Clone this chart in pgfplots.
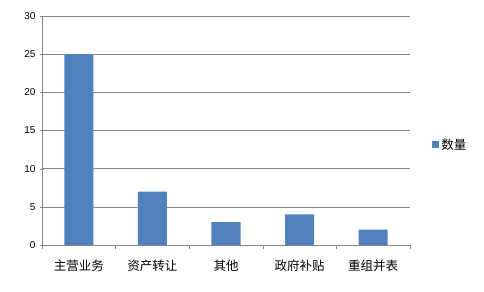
\documentclass[border=0pt]{standalone}
\usepackage{pgfplots}
\pgfplotsset{compat=1.18}
\usepackage{fontspec}
\setmainfont{Liberation Sans}
\newfontfamily\cjk{Noto Sans CJK SC}
\definecolor{barblue}{HTML}{4F81BD}
\definecolor{gridgray}{HTML}{868686}
\begin{document}
\begin{tikzpicture}
\path[use as bounding box] (-42bp,-47bp) rectangle (442bp,245bp);
\begin{axis}[
  at={(0,0)}, anchor=south west,
  scale only axis, width=368bp, height=229bp,
  xmin=-0.5, xmax=4.5, ymin=0, ymax=30,
  ytick={0,5,...,30},
  xtick={0,1,2,3,4},
  xticklabels={主营业务,资产转让,其他,政府补贴,重组并表},
  x tick label style={font=\cjk\fontsize{12.5bp}{14bp}\selectfont, yshift=-7bp},
  y tick label style={font=\fontsize{10bp}{12bp}\selectfont, xshift=-1bp},
  /pgf/number format/assume math mode=true,
  minor xtick={-0.5,0.5,...,4.5},
  major x tick style={draw=none},
  minor x tick style={draw=gridgray},
  y tick style={draw=gridgray},
  tick align=outside,
  major tick length=4bp,
  minor tick length=4bp,
  axis x line=bottom, axis y line=left,
  axis line style={draw=gridgray, -},
  ymajorgrids, grid style={draw=gridgray, line width=0.6pt},
  ybar, bar width=29bp,
  legend style={at={(1.06,0.437)}, anchor=west, draw=none, fill=none,
    font=\cjk\fontsize{12.5bp}{14bp}\selectfont, inner sep=0pt},
  legend image code/.code={\fill[barblue] (0bp,-3.5bp) rectangle (7bp,3.5bp);},
]
\addplot[fill=barblue, draw=none] coordinates {(0,25) (1,7) (2,3) (3,4) (4,2)};
\addlegendentry{数量}
\end{axis}
\end{tikzpicture}
\end{document}
